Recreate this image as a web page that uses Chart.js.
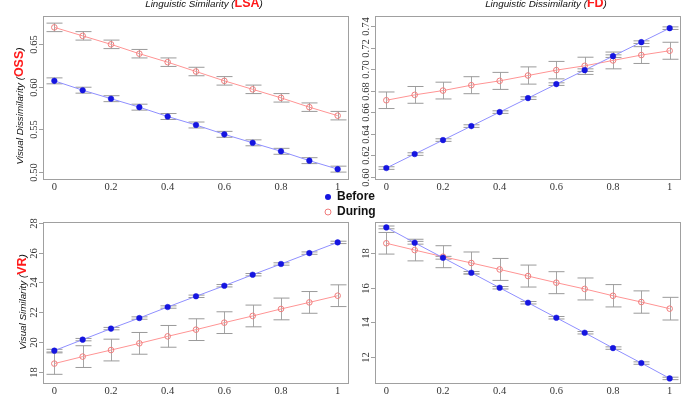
<!DOCTYPE html>
<html>
<head>
<meta charset="utf-8">
<script src="https://cdn.jsdelivr.net/npm/chart.js@4.4.1/dist/chart.umd.min.js"></script>
<style>
  body { margin: 0; background: #fff; }
  #wrap { position: relative; width: 693px; height: 402px; overflow: hidden; }
  canvas { position: absolute; left: 0; top: 0; }
</style>
</head>
<body>
<div id="wrap">
  <canvas id="p1" width="693" height="402"></canvas>
  <canvas id="p2" width="693" height="402"></canvas>
  <canvas id="p3" width="693" height="402"></canvas>
  <canvas id="p4" width="693" height="402"></canvas>
</div>
<script>
// x positions (weight) shared by all panels
const xValues = [0, 0.1, 0.2, 0.3, 0.4, 0.5, 0.6, 0.7, 0.8, 0.9, 1];
const xTicks = [0, 0.2, 0.4, 0.6, 0.8, 1];

// LSA / OSS (top left)
const lsaOssBefore = [0.607, 0.596, 0.586, 0.576, 0.565, 0.555, 0.544, 0.534, 0.524, 0.513, 0.503];
const lsaOssBeforeErr = [0.0035, 0.0035, 0.0035, 0.0035, 0.0035, 0.0035, 0.0035, 0.0035, 0.0035, 0.0035, 0.0035];
const lsaOssDuring = [0.670, 0.660, 0.650, 0.639, 0.629, 0.618, 0.607, 0.597, 0.587, 0.576, 0.566];
const lsaOssDuringErr = [0.005, 0.005, 0.005, 0.005, 0.005, 0.005, 0.005, 0.005, 0.005, 0.005, 0.005];
const lsaOssTicks = [0.50, 0.55, 0.60, 0.65];

// FD / OSS (top right)
const fdOssBefore = [0.608, 0.621, 0.634, 0.647, 0.660, 0.673, 0.686, 0.699, 0.712, 0.725, 0.738];
const fdOssBeforeErr = [0.0012, 0.0012, 0.0012, 0.0012, 0.0012, 0.0012, 0.0012, 0.0012, 0.0012, 0.0012, 0.0012];
const fdOssDuring = [0.671, 0.676, 0.680, 0.685, 0.689, 0.694, 0.699, 0.703, 0.708, 0.713, 0.717];
const fdOssDuringErr = [0.0077, 0.0078, 0.0078, 0.0079, 0.0079, 0.0080, 0.0081, 0.0080, 0.0078, 0.0078, 0.0079];
const fdOssTicks = [0.60, 0.62, 0.64, 0.66, 0.68, 0.70, 0.72, 0.74];

// LSA / VR (bottom left)
const lsaVrBefore = [19.41, 20.15, 20.89, 21.60, 22.34, 23.06, 23.77, 24.51, 25.23, 25.96, 26.68];
const lsaVrBeforeErr = [0.09, 0.08, 0.08, 0.08, 0.08, 0.08, 0.08, 0.08, 0.08, 0.08, 0.08];
const lsaVrDuring = [18.54, 19.01, 19.45, 19.90, 20.37, 20.82, 21.29, 21.74, 22.21, 22.65, 23.10];
const lsaVrDuringErr = [0.72, 0.73, 0.73, 0.73, 0.73, 0.73, 0.73, 0.73, 0.73, 0.73, 0.73];
const lsaVrTicks = [18, 20, 22, 24, 26, 28];

// FD / VR (bottom right)
const fdVrBefore = [19.45, 18.57, 17.71, 16.85, 15.99, 15.13, 14.27, 13.41, 12.53, 11.67, 10.79];
const fdVrBeforeErr = [0.08, 0.08, 0.08, 0.07, 0.07, 0.07, 0.07, 0.07, 0.07, 0.07, 0.07];
const fdVrDuring = [18.54, 18.15, 17.77, 17.41, 17.04, 16.66, 16.28, 15.92, 15.53, 15.17, 14.79];
const fdVrDuringErr = [0.62, 0.62, 0.63, 0.63, 0.63, 0.63, 0.63, 0.63, 0.64, 0.64, 0.65];
const fdVrTicks = [12, 14, 16, 18];

const W = 693, H = 402;
const sans = '"Liberation Sans", Arial, sans-serif';
const serif = '"Liberation Serif", "Times New Roman", serif';

// draw a row of differently styled pieces centred on (cx, cy)
function drawPieces(ctx, pieces, cx, cy, rotate) {
    ctx.save();
    ctx.translate(cx, cy);
    if (rotate) ctx.rotate(-Math.PI / 2);
    ctx.textBaseline = 'alphabetic';
    ctx.textAlign = 'left';
    let total = 0;
    pieces.forEach(p => { ctx.font = p.font; p.w = ctx.measureText(p.text).width; total += p.w; });
    let x = -total / 2;
    pieces.forEach(p => {
        ctx.font = p.font;
        ctx.fillStyle = p.color;
        ctx.fillText(p.text, x, 0);
        x += p.w;
    });
    ctx.restore();
}

function makePanel(id, box, yMin, yMax, yTicks, yDecimals, before, beforeErr, during, duringErr, extras) {
    const errorBars = {
        id: 'errorBars',
        beforeDatasetsDraw(chart) {
            const ctx = chart.ctx;
            const xs = chart.scales.x, ys = chart.scales.y;
            const sets = [[before, beforeErr], [during, duringErr]];
            ctx.save();
            ctx.lineWidth = 1;
            sets.forEach(([vals, errs]) => {
                vals.forEach((v, i) => {
                    const px = Math.round(xs.getPixelForValue(xValues[i])) + 0.5;
                    const top = ys.getPixelForValue(v + errs[i]);
                    const bot = ys.getPixelForValue(v - errs[i]);
                    ctx.strokeStyle = '#a6a6a6';
                    ctx.beginPath();
                    ctx.moveTo(px, top); ctx.lineTo(px, bot);
                    ctx.stroke();
                    ctx.strokeStyle = '#9a9a9a';
                    ctx.beginPath();
                    ctx.moveTo(px - 8, top); ctx.lineTo(px + 8, top);
                    ctx.moveTo(px - 8, bot); ctx.lineTo(px + 8, bot);
                    ctx.stroke();
                });
            });
            ctx.restore();
        }
    };

    const frame = {
        id: 'frame',
        afterDraw(chart) {
            const ctx = chart.ctx;
            const a = chart.chartArea;
            const xs = chart.scales.x, ys = chart.scales.y;
            ctx.save();
            ctx.strokeStyle = '#a0a0a0';
            ctx.lineWidth = 1;
            ctx.strokeRect(a.left + 0.5, a.top + 0.5, a.right - a.left - 1, a.bottom - a.top - 1);
            // y ticks + rotated labels
            ctx.fillStyle = '#333';
            ctx.font = '10.5px ' + serif;
            yTicks.forEach(t => {
                const py = Math.round(ys.getPixelForValue(t)) + 0.5;
                ctx.beginPath();
                ctx.moveTo(a.left - 4, py); ctx.lineTo(a.left, py);
                ctx.stroke();
                ctx.save();
                ctx.translate(a.left - 9, py);
                ctx.rotate(-Math.PI / 2);
                ctx.textAlign = 'center';
                ctx.textBaseline = 'middle';
                ctx.fillText(t.toFixed(yDecimals), 0, 0);
                ctx.restore();
            });
            // x labels
            ctx.textAlign = 'center';
            ctx.textBaseline = 'middle';
            xTicks.forEach(t => {
                ctx.fillText(String(t), xs.getPixelForValue(t), a.bottom + 7);
            });
            ctx.restore();
            if (extras) extras(ctx, a);
        }
    };

    return new Chart(document.getElementById(id), {
        type: 'line',
        data: {
            datasets: [{
                label: 'Before',
                data: xValues.map((x, i) => ({ x: x, y: before[i] })),
                borderColor: '#8f8fff',
                borderWidth: 1,
                pointRadius: 2.8,
                pointBackgroundColor: '#1515e0',
                pointBorderColor: '#1515e0',
                pointBorderWidth: 0.5
            }, {
                label: 'During',
                data: xValues.map((x, i) => ({ x: x, y: during[i] })),
                borderColor: '#ff9494',
                borderWidth: 1,
                pointRadius: 2.8,
                pointBackgroundColor: 'rgba(255,255,255,0)',
                pointBorderColor: '#f07c7c',
                pointBorderWidth: 1
            }]
        },
        options: {
            responsive: false,
            animation: false,
            devicePixelRatio: 1,
            layout: { padding: { left: box[0], top: box[1], right: W - box[2], bottom: H - box[3] } },
            plugins: { legend: { display: false }, tooltip: { enabled: false } },
            scales: {
                x: { type: 'linear', min: -0.04, max: 1.04, display: false },
                y: { type: 'linear', min: yMin, max: yMax, display: false }
            }
        },
        plugins: [errorBars, frame]
    });
}

const italic = 'italic 9.8px ' + sans;
const redBold = 'bold 12.5px ' + sans;

makePanel('p1', [43, 16, 349, 180], 0.4902, 0.6834, lsaOssTicks, 2,
    lsaOssBefore, lsaOssBeforeErr, lsaOssDuring, lsaOssDuringErr,
    function (ctx) {
        drawPieces(ctx, [
            { text: 'Linguistic Similarity (', font: italic, color: '#111' },
            { text: 'LSA', font: redBold, color: '#ff1a1a' },
            { text: ')', font: italic, color: '#111' }
        ], 204, 7, false);
        drawPieces(ctx, [
            { text: 'Visual Dissimilarity (', font: italic, color: '#111' },
            { text: 'OSS', font: redBold, color: '#ff1a1a' },
            { text: ')', font: italic, color: '#111' }
        ], 23, 106, true);
        // legend between panels
        ctx.save();
        ctx.fillStyle = '#1515e0';
        ctx.beginPath(); ctx.arc(328, 197, 3, 0, Math.PI * 2); ctx.fill();
        ctx.strokeStyle = '#f07c7c';
        ctx.lineWidth = 1;
        ctx.beginPath(); ctx.arc(328, 212, 3, 0, Math.PI * 2); ctx.stroke();
        ctx.fillStyle = '#111';
        ctx.font = 'bold 12px ' + sans;
        ctx.textAlign = 'left';
        ctx.textBaseline = 'middle';
        ctx.fillText('Before', 337, 197);
        ctx.fillText('During', 337, 212);
        ctx.restore();
    });

makePanel('p2', [375, 16, 681, 180], 0.5969, 0.7493, fdOssTicks, 2,
    fdOssBefore, fdOssBeforeErr, fdOssDuring, fdOssDuringErr,
    function (ctx) {
        drawPieces(ctx, [
            { text: 'Linguistic Dissimilarity (', font: italic, color: '#111' },
            { text: 'FD', font: redBold, color: '#ff1a1a' },
            { text: ')', font: italic, color: '#111' }
        ], 546, 7, false);
    });

makePanel('p3', [43, 222, 349, 384], 17.17, 28.05, lsaVrTicks, 0,
    lsaVrBefore, lsaVrBeforeErr, lsaVrDuring, lsaVrDuringErr,
    function (ctx) {
        drawPieces(ctx, [
            { text: 'Visual Similarity (', font: italic, color: '#111' },
            { text: 'VR', font: redBold, color: '#ff1a1a' },
            { text: ')', font: italic, color: '#111' }
        ], 26, 302, true);
    });

makePanel('p4', [375, 222, 681, 384], 10.47, 19.76, fdVrTicks, 0,
    fdVrBefore, fdVrBeforeErr, fdVrDuring, fdVrDuringErr, null);
</script>
</body>
</html>
